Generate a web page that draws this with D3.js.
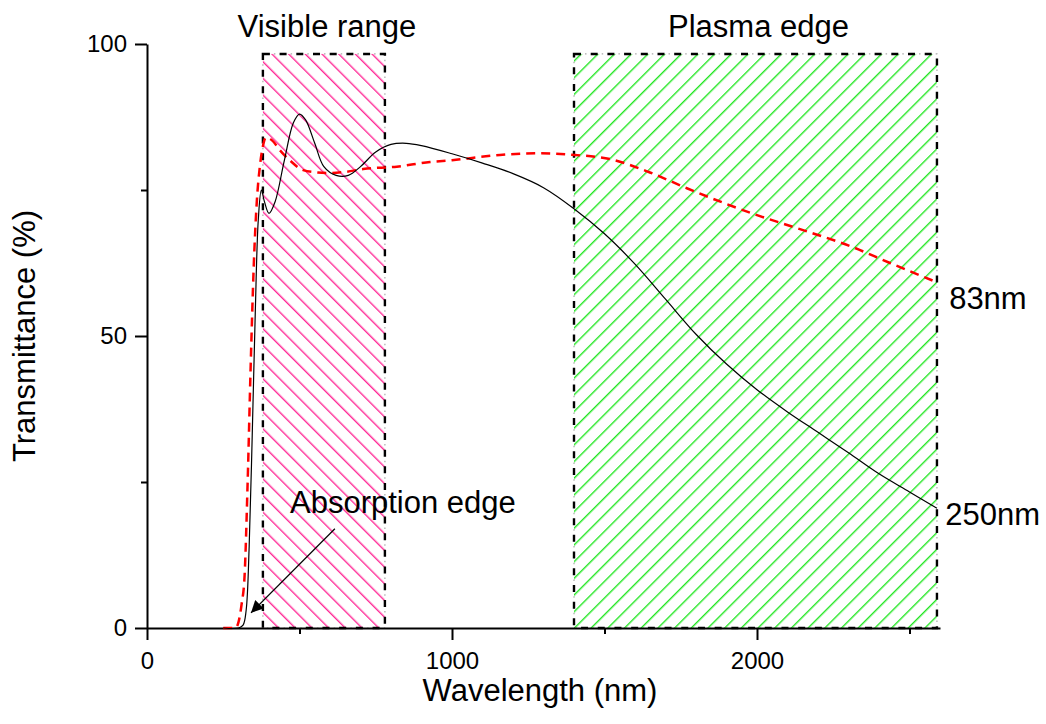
<!DOCTYPE html>
<html>
<head>
<meta charset="utf-8">
<script src="https://cdn.jsdelivr.net/npm/d3@7"></script>
<style>
  body { margin: 0; background: #fff; }
  svg text { font-family: "Liberation Sans", Arial, sans-serif; fill: #000; }
</style>
</head>
<body>
<div id="chart"></div>
<script>
// 250nm sample (solid black)
const wl250 = [250, 300, 315, 325, 335, 345, 355, 365, 375, 385, 400, 420, 450, 480, 500, 520, 550, 580, 620, 660, 700, 750, 800, 850, 900, 1000, 1100, 1200, 1300, 1400, 1500, 1600, 1700, 1800, 1900, 2000, 2100, 2200, 2300, 2400, 2500, 2590];
const t250 = [0, 0, 0.5, 3, 14, 33, 54, 70, 75, 73, 71, 73, 80, 86.5, 88, 87, 83, 79, 77.5, 77.5, 79, 81.5, 82.8, 83, 82.6, 81.2, 79.6, 77.8, 75.4, 71.8, 67.5, 62.3, 56.3, 50.3, 45.2, 40.8, 37, 33.5, 30, 26.4, 23.3, 20.5];

// 83nm sample (red dashed)
const wl83 = [250, 280, 290, 300, 310, 320, 330, 340, 350, 360, 370, 380, 390, 410, 436, 470, 512, 560, 600, 650, 709, 819, 928, 1000, 1157, 1290, 1403, 1518, 1649, 1770, 1900, 2000, 2141, 2305, 2436, 2590];
const t83 = [0, 0, 0, 1, 4, 9, 25, 45, 62, 73, 79, 82.5, 84, 83.5, 81.8, 80, 78.4, 78, 77.9, 78.1, 78.6, 79, 79.8, 80.1, 81, 81.3, 81, 80.3, 78, 75.3, 72.6, 70.7, 68.3, 65.4, 62.5, 59.2];

const visibleRange = [380, 780];
const plasmaRange = [1400, 2590];
const boxTop = 98.3;

const xMajor = [0, 1000, 2000];
const xMinor = [500, 1500, 2500];
const yMajor = [0, 50, 100];
const yMinor = [25, 75];

const W = 1046, H = 724;
const x = d3.scaleLinear().domain([0, 2600]).range([147, 940]);
const y = d3.scaleLinear().domain([0, 100]).range([628, 44]);

const svg = d3.select("#chart").append("svg")
    .attr("width", W).attr("height", H);

const defs = svg.append("defs");
function hatch(id, color, angle) {
    const p = defs.append("pattern")
        .attr("id", id)
        .attr("patternUnits", "userSpaceOnUse")
        .attr("width", 11.8).attr("height", 11.8)
        .attr("patternTransform", "rotate(" + angle + ")");
    p.append("line")
        .attr("x1", 0.7).attr("y1", 0).attr("x2", 0.7).attr("y2", 11.8)
        .attr("stroke", color).attr("stroke-width", 1.4);
}
hatch("pink", "#ff2a96", -45);
hatch("green", "#22e622", 45);

defs.append("marker")
    .attr("id", "arrow")
    .attr("viewBox", "0 0 10 10")
    .attr("refX", 10).attr("refY", 5)
    .attr("markerWidth", 17).attr("markerHeight", 12)
    .attr("markerUnits", "userSpaceOnUse")
    .attr("orient", "auto")
    .append("path").attr("d", "M0,0 L10,5 L0,10 Z").attr("fill", "#000");

// shaded ranges
[[visibleRange, "pink"], [plasmaRange, "green"]].forEach(([r, id]) => {
    const bx = x(r[0]), by = y(boxTop), bw = x(r[1]) - x(r[0]), bh = y(0) - y(boxTop);
    svg.append("rect")
        .attr("x", bx).attr("y", by).attr("width", bw).attr("height", bh)
        .attr("fill", "url(#" + id + ")");
    svg.append("rect")
        .attr("x", bx).attr("y", by).attr("width", bw).attr("height", bh)
        .attr("fill", "none")
        .attr("stroke", "#aaa").attr("stroke-width", 1.2)
        .attr("stroke-dasharray", "1.5,15.2")
        .attr("stroke-dashoffset", -11);
    svg.append("rect")
        .attr("x", bx).attr("y", by).attr("width", bw).attr("height", bh)
        .attr("fill", "none")
        .attr("stroke", "#000").attr("stroke-width", 2.4)
        .attr("stroke-dasharray", "7,9.7");
});

// axes
svg.append("g").attr("transform", "translate(" + x(0) + ",0)")
    .call(d3.axisLeft(y).tickValues(yMajor).tickSize(12).tickSizeOuter(0).tickPadding(8));
svg.append("g").attr("transform", "translate(" + x(0) + ",0)")
    .call(d3.axisLeft(y).tickValues(yMinor).tickSize(6).tickFormat(""))
    .select(".domain").remove();
svg.append("g").attr("transform", "translate(0," + y(0) + ")")
    .call(d3.axisBottom(x).tickValues(xMajor).tickSize(12).tickSizeOuter(0).tickPadding(12)
        .tickFormat(d3.format("d")));
svg.append("g").attr("transform", "translate(0," + y(0) + ")")
    .call(d3.axisBottom(x).tickValues(xMinor).tickSize(6).tickFormat(""))
    .select(".domain").remove();

svg.selectAll(".domain").attr("stroke-width", 2);
svg.selectAll(".tick line").attr("stroke-width", 2);
svg.selectAll(".tick text").attr("font-size", "24px")
    .attr("font-family", "Liberation Sans, Arial, sans-serif");

// curves
const line = d3.line().x(d => x(d[0])).y(d => y(d[1])).curve(d3.curveMonotoneX);
const smooth = d3.line().x(d => x(d[0])).y(d => y(d[1])).curve(d3.curveCatmullRom.alpha(0.5));
svg.append("path")
    .attr("d", line(d3.zip(wl83, t83)))
    .attr("fill", "none").attr("stroke", "#ff0000")
    .attr("stroke-width", 2.5).attr("stroke-dasharray", "9,6");
svg.append("path")
    .attr("d", smooth(d3.zip(wl250, t250)))
    .attr("fill", "none").attr("stroke", "#000")
    .attr("stroke-width", 1.2);

// arrow + labels
svg.append("line")
    .attr("x1", x(616)).attr("y1", y(17))
    .attr("x2", x(341)).attr("y2", y(2.6))
    .attr("stroke", "#000").attr("stroke-width", 1.2)
    .attr("marker-end", "url(#arrow)");

const fs = "31px";
svg.append("text").attr("x", x(469)).attr("y", y(19.7))
    .attr("font-size", fs).text("Absorption edge");
svg.append("text").attr("x", x(590)).attr("y", 37)
    .attr("text-anchor", "middle").attr("font-size", fs).text("Visible range");
svg.append("text").attr("x", x(2005)).attr("y", 37)
    .attr("text-anchor", "middle").attr("font-size", fs).text("Plasma edge");
svg.append("text").attr("x", x(2630)).attr("y", y(t83[t83.length - 1]) + 27)
    .attr("font-size", fs).text("83nm");
svg.append("text").attr("x", x(2617)).attr("y", y(t250[t250.length - 1]) + 17)
    .attr("font-size", fs).text("250nm");

svg.append("text").attr("x", 540).attr("y", 701)
    .attr("text-anchor", "middle").attr("font-size", fs).text("Wavelength (nm)");
svg.append("text").attr("transform", "translate(35,336) rotate(-90)")
    .attr("text-anchor", "middle").attr("font-size", fs).text("Transmittance (%)");
</script>
</body>
</html>
